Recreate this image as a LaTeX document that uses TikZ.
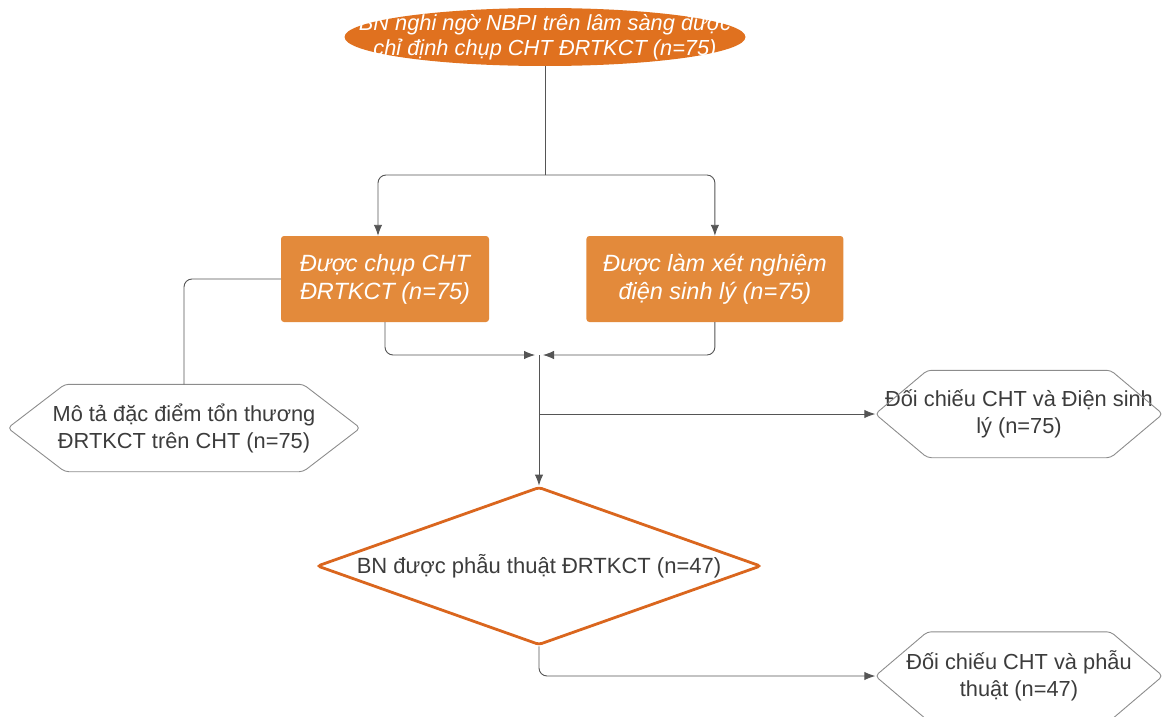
\documentclass[tikz,border=0pt]{standalone}
\usepackage{fontspec}
\setmainfont{Liberation Sans}
\usetikzlibrary{shapes,arrows.meta,positioning,calc}

\definecolor{ovalorange}{HTML}{E0711F}
\definecolor{boxorange}{HTML}{E38A3B}
\definecolor{diamorange}{HTML}{DA661E}
\definecolor{linegray}{HTML}{555555}
\definecolor{hexgray}{HTML}{8C8C8C}
\definecolor{textgray}{HTML}{3C3C3C}

\tikzset{
  startoval/.style={ellipse, fill=ovalorange, minimum width=401pt, minimum height=58pt, inner sep=0pt},
  starttext/.style={text=white, font=\fontsize{21.8}{25}\selectfont\itshape, align=center},
  stepbox/.style={rectangle, rounded corners=3pt, fill=boxorange, text=white,
    font=\fontsize{23.5}{28}\selectfont\itshape, align=center, minimum height=86pt, inner sep=0pt},
  hexbox/.style={rectangle, minimum height=87pt, inner sep=0pt, text=textgray,
    font=\fontsize{21.8}{27}\selectfont, align=center},
  hexline/.style={draw=hexgray, line width=0.9pt, rounded corners=4pt},
  decision/.style={diamond, draw=diamorange, line width=2.8pt, fill=white, rounded corners=3pt,
    minimum width=444pt, minimum height=158pt, aspect=2.8, inner sep=0pt, text=textgray,
    font=\fontsize{22}{25}\selectfont},
  conn/.style={draw=linegray, line width=0.9pt, rounded corners=8pt, -{Latex[length=11pt,width=8.5pt]}},
  link/.style={draw=linegray, line width=0.9pt, rounded corners=8pt}
}

\newcommand{\hexoutline}[2]{%
  \draw[hexline] (#1.west) -- ([xshift=#2]#1.north west) -- ([xshift=-#2]#1.north east)
    -- (#1.east) -- ([xshift=-#2]#1.south east) -- ([xshift=#2]#1.south west) -- cycle;}

\begin{document}
\begin{tikzpicture}[x=1pt, y=-1pt]
  \useasboundingbox (0,0) rectangle (1162,717);

  \node[startoval] (start) at (545,37) {};
  \node[starttext] at (start) {BN nghi ngờ NBPI trên lâm sàng được\\chỉ định chụp CHT ĐRTKCT (n=75)};

  \node[stepbox, minimum width=208pt] (mri) at (385,279) {Được chụp CHT\\ĐRTKCT (n=75)};
  \node[stepbox, minimum width=257pt, right=97pt of mri] (emg) {Được làm xét nghiệm\\điện sinh lý (n=75)};

  \node[hexbox, minimum width=352pt] (describe) at (184,428) {Mô tả đặc điểm tổn thương\\ĐRTKCT trên CHT (n=75)};
  \node[hexbox, minimum width=287pt] (compemg) at (1019,414) {Đối chiếu CHT và Điện sinh\\lý (n=75)};
  \node[decision] (surgery) at (539,566) {BN được phẫu thuật ĐRTKCT (n=47)};
  \node[hexbox, minimum width=287pt, minimum height=88pt] (compsurg) at (1019,676) {Đối chiếu CHT và phẫu\\thuật (n=47)};

  \hexoutline{describe}{57}
  \hexoutline{compemg}{52}
  \hexoutline{compsurg}{52}

  \coordinate (split) at (545,175);
  \coordinate (merge) at (539,355);

  \draw[link] (start.south) -- (split);
  \draw[conn] (split) -| ([xshift=-7pt]mri.north);
  \draw[conn] (split) -| (emg.north);
  \draw[link] (mri.west) -| (describe.north);
  \draw[conn] (mri.south) |- ([xshift=-4pt]merge);
  \draw[conn] (emg.south) |- ([xshift=4pt]merge);
  \draw[conn] (merge) -- (surgery.north);
  \draw[conn] (merge |- compemg.west) -- (compemg.west);
  \draw[conn] (surgery.south) |- (compsurg.west);
\end{tikzpicture}
\end{document}
